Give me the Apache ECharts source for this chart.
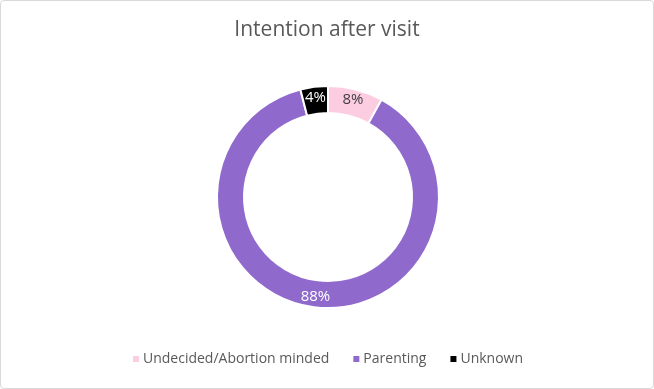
<!DOCTYPE html>
<html><head><meta charset="utf-8">
<script src="https://cdn.jsdelivr.net/npm/echarts@6/dist/echarts.min.js"></script>
<style>
html,body{margin:0;padding:0;background:#fff;}
#c{position:absolute;left:0;top:0;width:652px;height:387px;border:1px solid #d9d9d9;border-radius:4px;}
</style></head>
<body><div id="c"></div>
<script>
const categories = ['Undecided/Abortion minded', 'Parenting', 'Unknown'];
const values = [8, 88, 4];
const colors = ['#FCCDE1', '#9069CD', '#000000'];
const labelColors = ['#404040', '#ffffff', '#ffffff'];

const chart = echarts.init(document.getElementById('c'));
chart.setOption({
  animation: false,
  title: {
    text: 'Intention after visit', left: 'center', top: 14,
    textStyle: {fontFamily: 'Open Sans', fontSize: 21, fontWeight: 'normal', color: '#595959'}
  },
  legend: {
    bottom: 17, left: 'center', itemWidth: 8, itemHeight: 8, itemGap: 22, icon: 'rect',
    textStyle: {fontFamily: 'Open Sans', fontSize: 14, color: '#595959', padding: [0,0,0,-2]},
    data: categories
  },
  series: [{
    type: 'pie',
    center: [327, 196],
    radius: [84, 111],
    startAngle: 90,
    clockwise: true,
    itemStyle: {borderColor: '#fff', borderWidth: 2},
    label: {
      show: true, position: 'inside', fontFamily: 'Open Sans', fontSize: 15,
      formatter: p => p.value + '%'
    },
    labelLine: {show: false},
    data: categories.map((n, i) => ({
      name: n, value: values[i],
      itemStyle: {color: colors[i]},
      label: {color: labelColors[i]}
    }))
  }]
});
</script></body></html>
